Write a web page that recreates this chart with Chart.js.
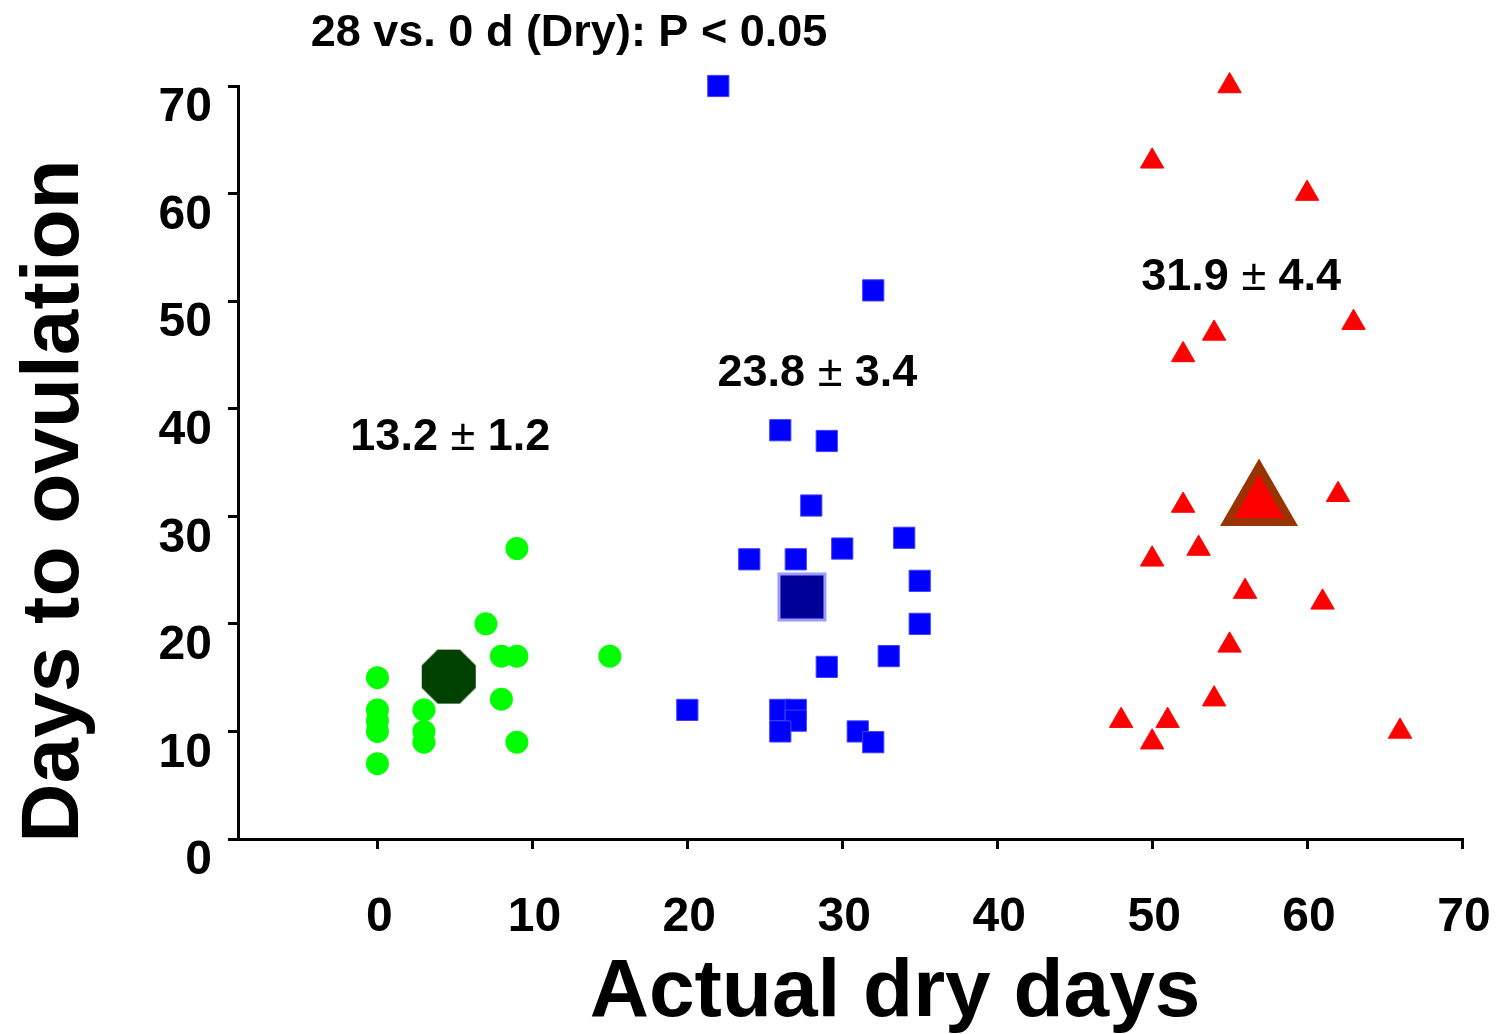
<!DOCTYPE html>
<html>
<head>
<meta charset="utf-8">
<script src="https://cdn.jsdelivr.net/npm/chart.js@4.4.1/dist/chart.umd.min.js"></script>
<style>
  html, body { margin: 0; padding: 0; background: #fff; overflow: hidden; }
  #wrap { width: 1498px; height: 1034px; }
</style>
</head>
<body>
<div id="wrap"><canvas id="chart"></canvas></div>
<script>
// tick labels
const xTicks = [0, 10, 20, 30, 40, 50, 60, 70];
const yTicks = [0, 10, 20, 30, 40, 50, 60, 70];

// 0 d dry group (green)
const greenX = [0, 0, 0, 0, 0, 3, 3, 3, 7, 8, 9, 9, 8, 9, 15];
const greenY = [15, 12, 11, 10, 7, 12, 10, 9, 20, 17, 17, 27, 13, 9, 17];

// 28 d dry group (blue)
const blueX = [22, 32, 26, 29, 28, 34, 30, 24, 27, 35, 35, 33, 29, 20, 26, 27, 27, 26, 31, 32];
const blueY = [70, 51, 38, 37, 31, 28, 27, 26, 26, 24, 20, 17, 16, 12, 12, 12, 11, 10, 10, 9];

// long dry group (red)
const redX = [55, 50, 60, 63, 54, 52, 52, 62, 50, 53, 56, 61, 55, 54, 48, 51, 50, 66];
const redY = [70, 63, 60, 48, 47, 45, 31, 32, 26, 27, 23, 22, 18, 13, 11, 11, 9, 10];

// group means as drawn
const meanX = [4.6, 27.4, 56.9];
const meanY = [15.1, 22.5, 31.2];
const meanLabels = ['13.2 ± 1.2', '23.8 ± 3.4', '31.9 ± 4.4'];

const topNote = '28 vs. 0 d (Dry): P < 0.05';
const xTitle = 'Actual dry days';
const yTitle = 'Days to ovulation';

const FONT = "'Liberation Sans', Arial, Helvetica, sans-serif";

function pts(xs, ys) {
  return xs.map((x, i) => ({ x: x, y: ys[i] }));
}

// octagon marker for the green mean
function octagon(size, color) {
  const c = document.createElement('canvas');
  c.width = size + 4;
  c.height = size + 4;
  const g = c.getContext('2d');
  const r = (size / 2) / Math.cos(Math.PI / 8);
  g.beginPath();
  for (let k = 0; k < 8; k++) {
    const a = Math.PI / 8 + k * Math.PI / 4;
    const px = c.width / 2 + r * Math.cos(a);
    const py = c.height / 2 + r * Math.sin(a);
    if (k === 0) g.moveTo(px, py); else g.lineTo(px, py);
  }
  g.closePath();
  g.fillStyle = color;
  g.fill();
  return c;
}

// bold text with a light-weight ± sign
function drawStat(ctx, text, cx, y, size) {
  const parts = text.split('±');
  const bold = 'bold ' + size + 'px ' + FONT;
  const thin = size + 'px ' + FONT;
  ctx.font = bold;
  const w0 = ctx.measureText(parts[0]).width;
  const w2 = ctx.measureText(parts[1]).width;
  ctx.font = thin;
  const w1 = ctx.measureText('±').width;
  let x = cx - (w0 + w1 + w2) / 2;
  ctx.textAlign = 'left';
  ctx.textBaseline = 'alphabetic';
  ctx.font = bold;
  ctx.fillText(parts[0], x, y);
  x += w0;
  ctx.font = thin;
  ctx.fillText('±', x, y);
  x += w1;
  ctx.font = bold;
  ctx.fillText(parts[1], x, y);
}

const textPlugin = {
  id: 'texts',
  afterDraw(chart) {
    const ctx = chart.ctx;
    const xs = chart.scales.x, ys = chart.scales.y;
    ctx.save();
    ctx.fillStyle = '#000';

    // stats labels, anchored in data units
    const anchors = [[4.7, 36.2], [28.4, 42.1], [55.75, 51.0]];
    meanLabels.forEach((t, i) => {
      drawStat(ctx, t, xs.getPixelForValue(anchors[i][0]), ys.getPixelForValue(anchors[i][1]), 45);
    });

    ctx.textAlign = 'center';
    ctx.textBaseline = 'alphabetic';
    ctx.font = 'bold 45px ' + FONT;
    ctx.fillText(topNote, 569, 46);

    ctx.font = 'bold 82px ' + FONT;
    ctx.fillText(xTitle, 895, 1016);

    ctx.translate(78, 501);
    ctx.rotate(-Math.PI / 2);
    ctx.fillText(yTitle, 0, 0);
    ctx.restore();
  }
};

new Chart(document.getElementById('chart'), {
  type: 'scatter',
  data: {
    datasets: [
      {
        label: 'mean 0 d',
        data: [{ x: meanX[0], y: meanY[0] }],
        pointStyle: octagon(54, '#004000'),
        pointRadius: 27,
        clip: false
      },
      {
        label: 'mean 28 d',
        data: [{ x: meanX[1], y: meanY[1] }],
        pointStyle: 'rect',
        pointRadius: 32.5,
        backgroundColor: '#000099',
        borderColor: '#9a9aff',
        borderWidth: 3,
        clip: false
      },
      {
        label: 'mean long',
        data: [{ x: meanX[2], y: meanY[2] }],
        pointStyle: 'triangle',
        pointRadius: 37,
        backgroundColor: '#ff0000',
        borderColor: '#993300',
        borderWidth: 8,
        clip: false
      },
      {
        label: '0 d',
        data: pts(greenX, greenY),
        pointStyle: 'circle',
        pointRadius: 11.5,
        backgroundColor: '#00ff00',
        borderColor: '#00ff00',
        borderWidth: 0,
        clip: false
      },
      {
        label: '28 d',
        data: pts(blueX, blueY),
        pointStyle: 'rect',
        pointRadius: 15,
        backgroundColor: '#0000ff',
        borderColor: '#4040ff',
        borderWidth: 1,
        clip: false
      },
      {
        label: 'long',
        data: pts(redX, redY),
        pointStyle: 'triangle',
        pointRadius: 13.5,
        backgroundColor: '#ff0000',
        borderColor: '#ff0000',
        borderWidth: 1,
        clip: false
      }
    ]
  },
  options: {
    responsive: true,
    maintainAspectRatio: false,
    animation: false,
    events: [],
    layout: {
      autoPadding: false, // big mean markers would otherwise push the axes in
      padding: { top: 86, right: 36, bottom: 0, left: 0 }
    },
    plugins: {
      legend: { display: false },
      tooltip: { enabled: false }
    },
    scales: {
      x: {
        type: 'linear',
        min: -9,
        max: 70,
        afterBuildTicks: (scale) => { scale.ticks = xTicks.map(v => ({ value: v })); },
        afterFit: (scale) => {
          scale.height = 195;
          scale.paddingLeft = 0;
          scale.paddingRight = 0;
        },
        border: { display: true, color: '#000', width: 3 },
        grid: { drawOnChartArea: false, drawTicks: true, tickLength: 10, color: '#000', lineWidth: 3 },
        ticks: {
          color: '#000',
          padding: 40,
          labelOffset: 2,
          maxRotation: 0,
          font: { family: FONT, size: 48, weight: 'bold' }
        }
      },
      y: {
        type: 'linear',
        min: 0,
        max: 70,
        afterBuildTicks: (scale) => { scale.ticks = yTicks.map(v => ({ value: v })); },
        afterFit: (scale) => {
          scale.width = 238;
          scale.paddingTop = 0;
          scale.paddingBottom = 0;
        },
        border: { display: true, color: '#000', width: 3 },
        grid: { drawOnChartArea: false, drawTicks: true, tickLength: 10, color: '#000', lineWidth: 3 },
        ticks: {
          color: '#000',
          padding: 16,
          labelOffset: 22,
          font: { family: FONT, size: 48, weight: 'bold' }
        }
      }
    }
  },
  plugins: [textPlugin]
});
</script>
</body>
</html>
